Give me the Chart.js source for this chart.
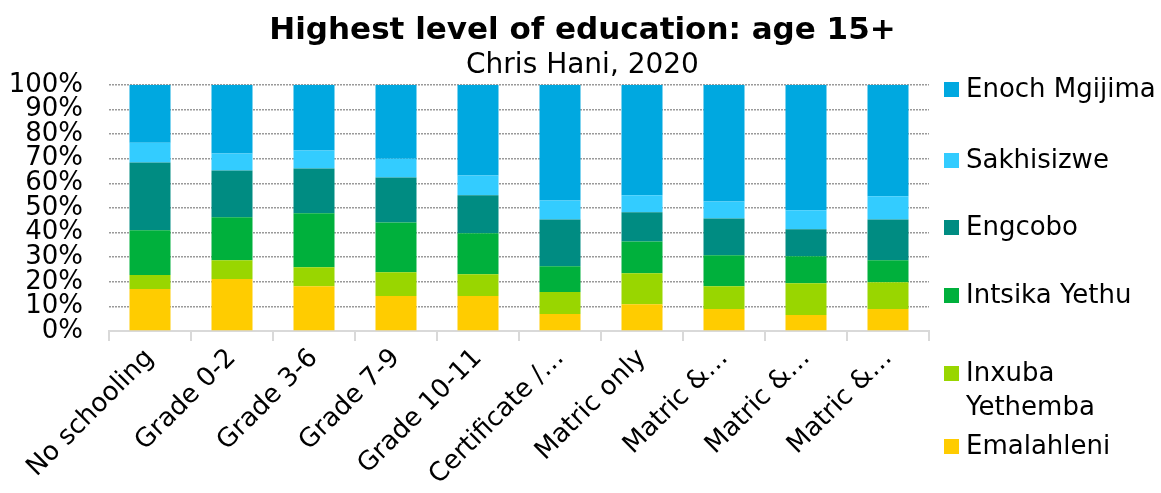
<!DOCTYPE html>
<html>
<head>
<meta charset="utf-8">
<title>Highest level of education: age 15+</title>
<script src="https://cdn.jsdelivr.net/npm/chart.js@4.4.1/dist/chart.umd.min.js"></script>
<style>
  html, body { margin: 0; padding: 0; background: #fff; }
  #wrap { width: 1161px; height: 493px; position: relative; }
</style>
</head>
<body>
<div id="wrap"><canvas id="eduChart"></canvas></div>
<script>
// education levels (x axis)
var levels = ['No schooling', 'Grade 0-2', 'Grade 3-6', 'Grade 7-9', 'Grade 10-11',
  'Certificate /…', 'Matric only', 'Matric &…', 'Matric &…', 'Matric &…'];

// share of each level by local municipality, %
var emalahleni  = [17.1, 21.1, 18.2, 14.2, 14.2,  6.9, 10.9,  8.9,  6.5,  8.9];
var inxuba      = [ 5.6,  7.6,  7.7,  9.7,  8.9,  8.9, 12.6,  9.3, 12.9, 10.9];
var intsika     = [18.2, 17.5, 21.9, 20.2, 16.6, 10.5, 12.9, 12.6, 11.0,  8.9];
var engcobo     = [27.5, 19.0, 18.2, 18.2, 15.4, 19.0, 11.8, 14.9, 10.9, 16.6];
var sakhisizwe  = [ 8.1,  6.9,  7.3,  7.7,  8.1,  7.7,  6.9,  6.9,  7.7,  9.4];
var enoch       = [23.5, 27.9, 26.7, 30.0, 36.8, 47.0, 44.9, 47.4, 51.0, 45.3];

var yTicks = [0, 10, 20, 30, 40, 50, 60, 70, 80, 90, 100];

var FONT = "'DejaVu Sans', Verdana, sans-serif";
Chart.defaults.font.family = FONT;
Chart.defaults.color = '#000';

// legend on the right, drawn by hand so long names can wrap
var sideLegend = {
  id: 'sideLegend',
  afterDraw: function (chart) {
    var ctx = chart.ctx;
    var items = [
      { lines: ['Enoch Mgijima'], color: '#00A8E0', top: 82 },
      { lines: ['Sakhisizwe'], color: '#33CCFF', top: 153 },
      { lines: ['Engcobo'], color: '#008C82', top: 220 },
      { lines: ['Intsika Yethu'], color: '#00B03C', top: 288 },
      { lines: ['Inxuba', 'Yethemba'], color: '#99D600', top: 366 },
      { lines: ['Emalahleni'], color: '#FFCC00', top: 439 }
    ];
    ctx.save();
    ctx.font = '26px ' + FONT;
    ctx.textBaseline = 'middle';
    items.forEach(function (it) {
      ctx.fillStyle = it.color;
      ctx.fillRect(944, it.top, 15, 15);
      ctx.fillStyle = '#000';
      it.lines.forEach(function (ln, k) {
        ctx.fillText(ln, 966, it.top + 8 + k * 34);
      });
    });
    ctx.restore();
  }
};

function series(label, data, color) {
  return { label: label, data: data, backgroundColor: color, borderWidth: 0,
    barPercentage: 0.5, categoryPercentage: 1.0 };
}

new Chart(document.getElementById('eduChart'), {
  type: 'bar',
  data: {
    labels: levels,
    datasets: [
      series('Emalahleni', emalahleni, '#FFCC00'),
      series('Inxuba Yethemba', inxuba, '#99D600'),
      series('Intsika Yethu', intsika, '#00B03C'),
      series('Engcobo', engcobo, '#008C82'),
      series('Sakhisizwe', sakhisizwe, '#33CCFF'),
      series('Enoch Mgijima', enoch, '#00A8E0')
    ]
  },
  options: {
    responsive: true,
    maintainAspectRatio: false,
    animation: false,
    layout: { padding: { left: 4, right: 0, top: 0, bottom: 0 } },
    plugins: {
      legend: { display: false },
      tooltip: { enabled: false },
      title: {
        display: true,
        text: 'Highest level of education: age 15+',
        font: { size: 31, weight: 'bold' },
        padding: { top: 12, bottom: 0 }
      },
      subtitle: {
        display: true,
        text: 'Chris Hani, 2020',
        font: { size: 28 },
        padding: { top: 0, bottom: 2 }
      }
    },
    scales: {
      x: {
        stacked: true,
        grid: { offset: true, drawOnChartArea: false, drawTicks: true, tickLength: 10, color: '#d9d9d9', lineWidth: 2 },
        border: { display: true, color: '#d9d9d9', width: 2 },
        ticks: { font: { size: 26 }, minRotation: 45, maxRotation: 45, autoSkip: false, padding: 2 },
        afterFit: function (axis) { axis.height = 162; }
      },
      y: {
        stacked: true,
        min: 0,
        max: 100,
        afterBuildTicks: function (axis) {
          axis.ticks = yTicks.map(function (v) { return { value: v }; });
        },
        afterFit: function (axis) { axis.width = 105; },
        grid: {
          drawTicks: false,
          color: function (c) { return c.tick && c.tick.value === 0 ? 'rgba(0,0,0,0)' : '#9a9a9a'; },
          lineWidth: 1.5
        },
        border: { display: false, dash: [2, 1] },
        ticks: {
          font: { size: 26 },
          autoSkip: false,
          padding: 26,
          callback: function (v) { return v + '%'; }
        }
      },
      // empty axis that keeps room for the legend on the right
      side: {
        type: 'linear',
        position: 'right',
        display: true,
        grid: { display: false, drawTicks: false },
        border: { display: false },
        ticks: { display: false },
        afterFit: function (axis) { axis.width = 232; }
      }
    }
  },
  plugins: [sideLegend]
});
</script>
</body>
</html>
